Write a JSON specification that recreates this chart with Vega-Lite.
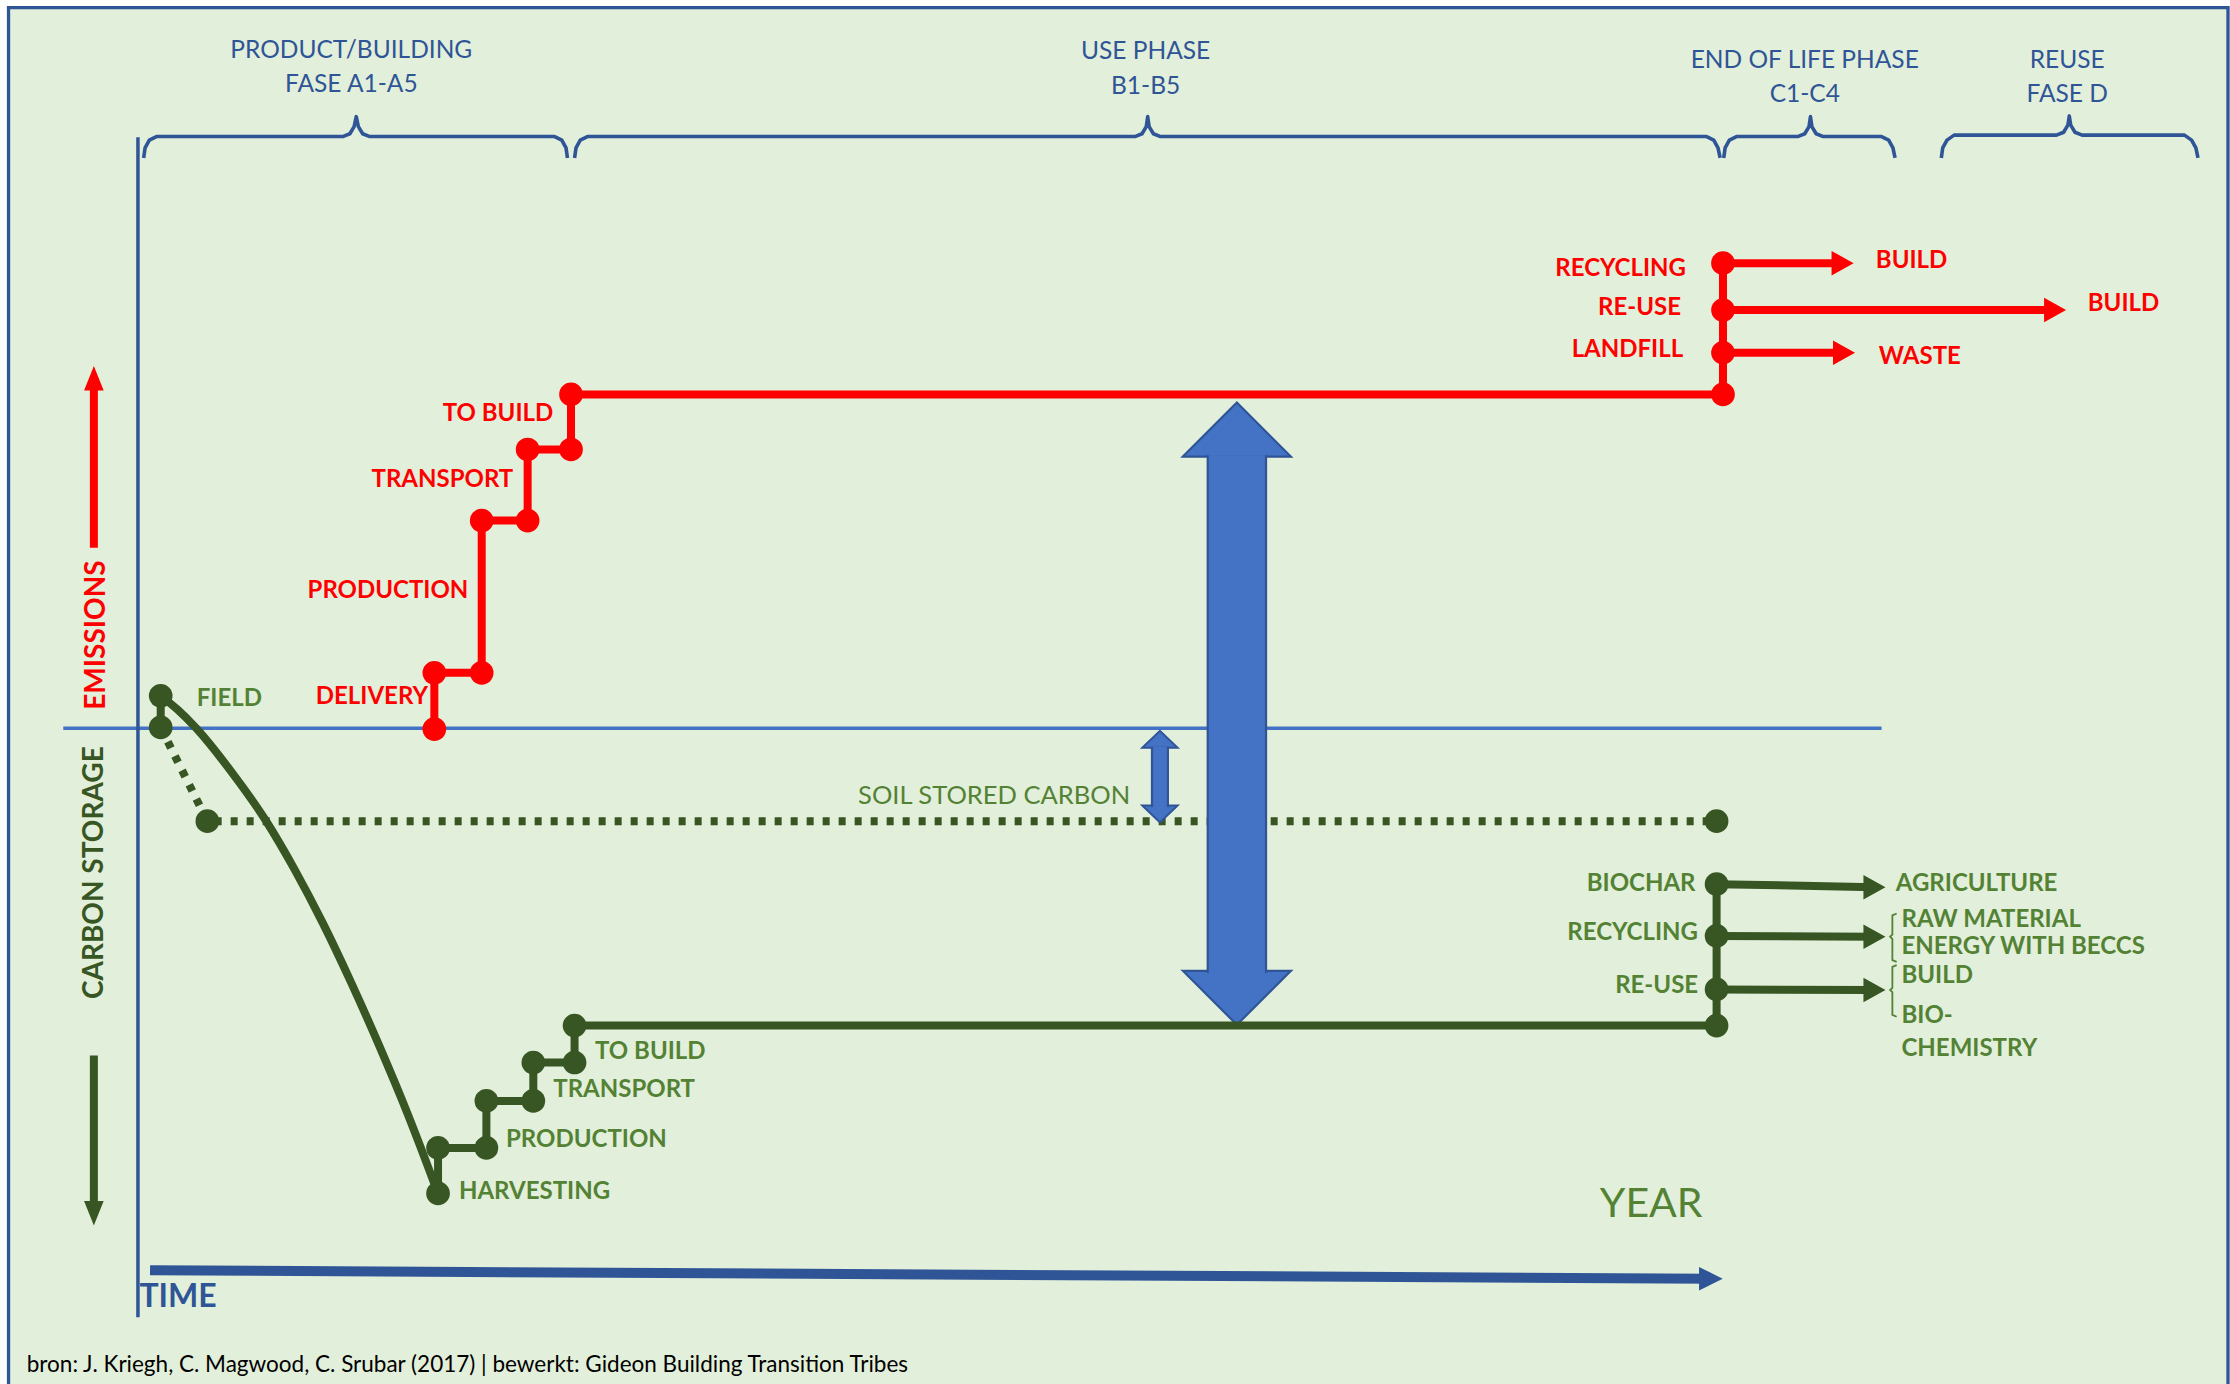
{
  "$schema": "https://vega.github.io/schema/vega-lite/v6.json",
  "width": 2230,
  "height": 1384,
  "autosize": {"type": "none"},
  "padding": 0,
  "background": "#FFFFFF",
  "config": {"view": {"stroke": null}, "text": {"font": "Lato"}},
  "datasets": {
    "braces": [
      {"phase": "A", "o": 1, "t": 4, "c": 401}, {"phase": "A", "o": 2, "t": 5, "c": 408}, {"phase": "A", "o": 3, "t": 8, "c": 413.5}, {"phase": "A", "o": 4, "t": 13, "c": 416}, {"phase": "A", "o": 5, "t": 144, "c": 416}, {"phase": "A", "o": 6, "t": 149, "c": 418}, {"phase": "A", "o": 7, "t": 152, "c": 423}, {"phase": "A", "o": 8, "t": 153.5, "c": 430}, {"phase": "A", "o": 9, "t": 155, "c": 423}, {"phase": "A", "o": 10, "t": 158, "c": 418}, {"phase": "A", "o": 11, "t": 163, "c": 416}, {"phase": "A", "o": 12, "t": 293, "c": 416}, {"phase": "A", "o": 13, "t": 298, "c": 413.5}, {"phase": "A", "o": 14, "t": 301, "c": 408}, {"phase": "A", "o": 15, "t": 302, "c": 401},
      {"phase": "B", "o": 1, "t": 307, "c": 401}, {"phase": "B", "o": 2, "t": 308, "c": 408}, {"phase": "B", "o": 3, "t": 311, "c": 413.5}, {"phase": "B", "o": 4, "t": 316, "c": 416}, {"phase": "B", "o": 5, "t": 701, "c": 416}, {"phase": "B", "o": 6, "t": 706, "c": 418}, {"phase": "B", "o": 7, "t": 709, "c": 423}, {"phase": "B", "o": 8, "t": 710, "c": 430}, {"phase": "B", "o": 9, "t": 711, "c": 423}, {"phase": "B", "o": 10, "t": 714, "c": 418}, {"phase": "B", "o": 11, "t": 719, "c": 416}, {"phase": "B", "o": 12, "t": 1103, "c": 416}, {"phase": "B", "o": 13, "t": 1108, "c": 413.5}, {"phase": "B", "o": 14, "t": 1111, "c": 408}, {"phase": "B", "o": 15, "t": 1112.5, "c": 401},
      {"phase": "C", "o": 1, "t": 1115, "c": 401}, {"phase": "C", "o": 2, "t": 1116, "c": 408}, {"phase": "C", "o": 3, "t": 1119, "c": 413.5}, {"phase": "C", "o": 4, "t": 1124, "c": 416}, {"phase": "C", "o": 5, "t": 1167, "c": 416}, {"phase": "C", "o": 6, "t": 1172, "c": 418}, {"phase": "C", "o": 7, "t": 1175, "c": 423}, {"phase": "C", "o": 8, "t": 1176, "c": 430}, {"phase": "C", "o": 9, "t": 1177, "c": 423}, {"phase": "C", "o": 10, "t": 1180, "c": 418}, {"phase": "C", "o": 11, "t": 1185, "c": 416}, {"phase": "C", "o": 12, "t": 1226, "c": 416}, {"phase": "C", "o": 13, "t": 1231, "c": 413.5}, {"phase": "C", "o": 14, "t": 1234, "c": 408}, {"phase": "C", "o": 15, "t": 1235.5, "c": 401},
      {"phase": "D", "o": 1, "t": 1268, "c": 401}, {"phase": "D", "o": 2, "t": 1269, "c": 408}, {"phase": "D", "o": 3, "t": 1272, "c": 413.5}, {"phase": "D", "o": 4, "t": 1277, "c": 417}, {"phase": "D", "o": 5, "t": 1349, "c": 417}, {"phase": "D", "o": 6, "t": 1354, "c": 419}, {"phase": "D", "o": 7, "t": 1357, "c": 424}, {"phase": "D", "o": 8, "t": 1358, "c": 430.5}, {"phase": "D", "o": 9, "t": 1359, "c": 424}, {"phase": "D", "o": 10, "t": 1362, "c": 419}, {"phase": "D", "o": 11, "t": 1367, "c": 417}, {"phase": "D", "o": 12, "t": 1439, "c": 417}, {"phase": "D", "o": 13, "t": 1444, "c": 413.5}, {"phase": "D", "o": 14, "t": 1447, "c": 408}, {"phase": "D", "o": 15, "t": 1448.5, "c": 401}
    ],
    "paths": [
      {"path": "emissions", "kind": "emission", "o": 1, "t": 208.4, "c": -0.6}, {"path": "emissions", "kind": "emission", "o": 2, "t": 208.4, "c": 39}, {"path": "emissions", "kind": "emission", "o": 3, "t": 241.7, "c": 39}, {"path": "emissions", "kind": "emission", "o": 4, "t": 241.7, "c": 146}, {"path": "emissions", "kind": "emission", "o": 5, "t": 274, "c": 146}, {"path": "emissions", "kind": "emission", "o": 6, "t": 274, "c": 196}, {"path": "emissions", "kind": "emission", "o": 7, "t": 304.5, "c": 196}, {"path": "emissions", "kind": "emission", "o": 8, "t": 304.5, "c": 234.7}, {"path": "emissions", "kind": "emission", "o": 9, "t": 1114.5, "c": 234.7}, {"path": "emissions", "kind": "emission", "o": 10, "t": 1114.5, "c": 327},
      {"path": "storage", "kind": "storage", "o": 1, "t": 211, "c": -327}, {"path": "storage", "kind": "storage", "o": 2, "t": 211, "c": -295}, {"path": "storage", "kind": "storage", "o": 3, "t": 245, "c": -295}, {"path": "storage", "kind": "storage", "o": 4, "t": 245, "c": -262}, {"path": "storage", "kind": "storage", "o": 5, "t": 278, "c": -262}, {"path": "storage", "kind": "storage", "o": 6, "t": 278, "c": -235}, {"path": "storage", "kind": "storage", "o": 7, "t": 307, "c": -235}, {"path": "storage", "kind": "storage", "o": 8, "t": 307, "c": -209}, {"path": "storage", "kind": "storage", "o": 9, "t": 1110, "c": -209}, {"path": "storage", "kind": "storage", "o": 10, "t": 1110, "c": -109.6},
      {"path": "field", "kind": "storage", "o": 1, "t": 16, "c": 22.8}, {"path": "field", "kind": "storage", "o": 2, "t": 16, "c": 0.6}
    ],
    "curve": [
      {"o": 1, "t": 16, "c": 22.8}, {"o": 2, "t": 28, "c": 13}, {"o": 3, "t": 41, "c": 0}, {"o": 4, "t": 66, "c": -31}, {"o": 5, "t": 90, "c": -65}, {"o": 6, "t": 110, "c": -99}, {"o": 7, "t": 130, "c": -137}, {"o": 8, "t": 150, "c": -179}, {"o": 9, "t": 170, "c": -224}, {"o": 10, "t": 190, "c": -272}, {"o": 11, "t": 211, "c": -327}
    ],
    "soil": [
      {"o": 1, "t": 16, "c": 0.6}, {"o": 2, "t": 48.8, "c": -65.3}, {"o": 3, "t": 1110, "c": -65.3}
    ],
    "nodes": [
      {"kind": "emission", "t": 208.4, "c": -0.6}, {"kind": "emission", "t": 208.4, "c": 39}, {"kind": "emission", "t": 241.7, "c": 39}, {"kind": "emission", "t": 241.7, "c": 146}, {"kind": "emission", "t": 274, "c": 146}, {"kind": "emission", "t": 274, "c": 196}, {"kind": "emission", "t": 304.5, "c": 196}, {"kind": "emission", "t": 304.5, "c": 234.7}, {"kind": "emission", "t": 1114.5, "c": 234.7}, {"kind": "emission", "t": 1114.5, "c": 264}, {"kind": "emission", "t": 1114.5, "c": 294}, {"kind": "emission", "t": 1114.5, "c": 327},
      {"kind": "storage", "t": 16, "c": 22.8}, {"kind": "storage", "t": 16, "c": 0.6}, {"kind": "storage", "t": 48.8, "c": -65.3}, {"kind": "storage", "t": 1110, "c": -65.3}, {"kind": "storage", "t": 211, "c": -327}, {"kind": "storage", "t": 211, "c": -295}, {"kind": "storage", "t": 245, "c": -295}, {"kind": "storage", "t": 245, "c": -262}, {"kind": "storage", "t": 278, "c": -262}, {"kind": "storage", "t": 278, "c": -235}, {"kind": "storage", "t": 307, "c": -235}, {"kind": "storage", "t": 307, "c": -209}, {"kind": "storage", "t": 1110, "c": -209}, {"kind": "storage", "t": 1110, "c": -183.6}, {"kind": "storage", "t": 1110, "c": -146}, {"kind": "storage", "t": 1110, "c": -109.6}
    ],
    "arrows": [
      {"kind": "emission", "dir": "right", "t": 1114.5, "c": 327, "t2": 1198.6, "c2": 327},
      {"kind": "emission", "dir": "right", "t": 1114.5, "c": 294, "t2": 1348, "c2": 294},
      {"kind": "emission", "dir": "right", "t": 1114.5, "c": 264, "t2": 1199.6, "c2": 264},
      {"kind": "storage", "dir": "right", "t": 1110, "c": -109.6, "t2": 1221, "c2": -111.7},
      {"kind": "storage", "dir": "right", "t": 1110, "c": -146, "t2": 1221, "c2": -146.5},
      {"kind": "storage", "dir": "right", "t": 1110, "c": -183.6, "t2": 1221, "c2": -184},
      {"kind": "emission", "dir": "up", "t": -31, "c": 127, "t2": -31, "c2": 246},
      {"kind": "storage", "dir": "down", "t": -31, "c": -230, "t2": -31, "c2": -341}
    ],
    "timeArrow": [
      {"kind": "time", "dir": "right", "t": 8.5, "c": -381, "t2": 1106, "c2": -387}
    ],
    "gapShafts": [
      {"arrow": "soil", "t": 713, "t2": 724.2, "c": -13, "c2": -55.4},
      {"arrow": "total", "t": 752.2, "t2": 793.2, "c": 192, "c2": -172}
    ],
    "gapHeads": [
      {"arrow": "soil", "dir": "up", "t": 718.6, "c": -7.75},
      {"arrow": "soil", "dir": "down", "t": 718.6, "c": -60.25},
      {"arrow": "total", "dir": "up", "t": 772.7, "c": 210},
      {"arrow": "total", "dir": "down", "t": 772.7, "c": -189.5}
    ],
    "brackets": [
      {"br": 1, "o": 1, "t": 1236.6, "c": -130.2}, {"br": 1, "o": 2, "t": 1233.6, "c": -131.5}, {"br": 1, "o": 3, "t": 1233.6, "c": -145}, {"br": 1, "o": 4, "t": 1232, "c": -146.5}, {"br": 1, "o": 5, "t": 1233.6, "c": -148}, {"br": 1, "o": 6, "t": 1233.6, "c": -163}, {"br": 1, "o": 7, "t": 1236.6, "c": -164.2},
      {"br": 2, "o": 1, "t": 1236.6, "c": -166.5}, {"br": 2, "o": 2, "t": 1233.6, "c": -167.8}, {"br": 2, "o": 3, "t": 1233.6, "c": -182.5}, {"br": 2, "o": 4, "t": 1232, "c": -184}, {"br": 2, "o": 5, "t": 1233.6, "c": -185.5}, {"br": 2, "o": 6, "t": 1233.6, "c": -201.5}, {"br": 2, "o": 7, "t": 1236.6, "c": -202.8}
    ],
    "labels": [
      {"kind": "emission", "side": "before", "text": "RECYCLING", "t": 1088.5, "c": 323},
      {"kind": "emission", "side": "before", "text": "RE-USE", "t": 1085, "c": 295.4},
      {"kind": "emission", "side": "before", "text": "LANDFILL", "t": 1086.5, "c": 266},
      {"kind": "emission", "side": "before", "text": "TO BUILD", "t": 292, "c": 220.9},
      {"kind": "emission", "side": "before", "text": "TRANSPORT", "t": 263.9, "c": 174.5},
      {"kind": "emission", "side": "before", "text": "PRODUCTION", "t": 232.3, "c": 96.6},
      {"kind": "emission", "side": "before", "text": "DELIVERY", "t": 204, "c": 22.1},
      {"kind": "emission", "side": "after", "text": "BUILD", "t": 1222, "c": 328.8},
      {"kind": "emission", "side": "after", "text": "BUILD", "t": 1371, "c": 298.4},
      {"kind": "emission", "side": "after", "text": "WASTE", "t": 1224, "c": 261},
      {"kind": "storage", "side": "before", "text": "BIOCHAR", "t": 1095.2, "c": -109.7},
      {"kind": "storage", "side": "before", "text": "RECYCLING", "t": 1096.9, "c": -143.7},
      {"kind": "storage", "side": "before", "text": "RE-USE", "t": 1097, "c": -181.2},
      {"kind": "storage", "side": "after", "text": "FIELD", "t": 41.3, "c": 20.4},
      {"kind": "storage", "side": "after", "text": "TO BUILD", "t": 321.4, "c": -227.5},
      {"kind": "storage", "side": "after", "text": "TRANSPORT", "t": 292, "c": -254.3},
      {"kind": "storage", "side": "after", "text": "PRODUCTION", "t": 258.8, "c": -289.4},
      {"kind": "storage", "side": "after", "text": "HARVESTING", "t": 225.7, "c": -326},
      {"kind": "storage", "side": "after", "text": "AGRICULTURE", "t": 1236, "c": -109.5},
      {"kind": "storage", "side": "after", "text": "RAW MATERIAL", "t": 1240, "c": -135},
      {"kind": "storage", "side": "after", "text": "ENERGY WITH BECCS", "t": 1240, "c": -153.5},
      {"kind": "storage", "side": "after", "text": "BUILD", "t": 1240, "c": -174.4},
      {"kind": "storage", "side": "after", "text": "BIO-", "t": 1240, "c": -202.6},
      {"kind": "storage", "side": "after", "text": "CHEMISTRY", "t": 1240, "c": -225.8}
    ],
    "phases": [
      {"text": "PRODUCT/BUILDING", "t": 150, "c": 476}, {"text": "FASE A1-A5", "t": 150, "c": 452},
      {"text": "USE PHASE", "t": 708.5, "c": 475.6}, {"text": "B1-B5", "t": 708.5, "c": 451},
      {"text": "END OF LIFE PHASE", "t": 1172, "c": 469}, {"text": "C1-C4", "t": 1172, "c": 445},
      {"text": "REUSE", "t": 1356.5, "c": 469}, {"text": "FASE D", "t": 1356.5, "c": 445}
    ]
  },
  "encoding": {
    "x": {"field": "t", "type": "quantitative", "scale": {"domain": [-97, 1471], "nice": false, "zero": false}, "axis": null},
    "y": {"field": "c", "type": "quantitative", "scale": {"domain": [-461, 512], "nice": false, "zero": false}, "axis": null}
  },
  "layer": [
    {
      "data": {"values": [{"t": -91, "t2": 1469.6, "c": 506.7, "c2": -475}]},
      "mark": {"type": "rect", "fill": "#E2EFDA", "stroke": "#2F5597", "strokeWidth": 3.3},
      "encoding": {"x2": {"field": "t2"}, "y2": {"field": "c2"}}
    },
    {
      "data": {"values": [{"line": "zero", "t": -52.5, "t2": 1226, "c": 0, "c2": 0}]},
      "mark": {"type": "rule", "color": "#4472C4", "strokeWidth": 3.3},
      "encoding": {"x2": {"field": "t2"}, "y2": {"field": "c2"}}
    },
    {
      "data": {"values": [{"line": "axis", "t": 0, "t2": 0, "c": 415.5, "c2": -414}]},
      "mark": {"type": "rule", "color": "#2F5597", "strokeWidth": 3.5},
      "encoding": {"x2": {"field": "t2"}, "y2": {"field": "c2"}}
    },
    {
      "data": {"name": "braces"},
      "mark": {"type": "line", "color": "#2F5597", "strokeWidth": 3.6, "strokeJoin": "round"},
      "encoding": {"detail": {"field": "phase"}, "order": {"field": "o", "type": "quantitative"}}
    },
    {
      "data": {"name": "timeArrow"},
      "mark": {"type": "rule", "color": "#2F5597", "strokeWidth": 10},
      "encoding": {"x2": {"field": "t2"}, "y2": {"field": "c2"}}
    },
    {
      "data": {"name": "timeArrow"},
      "mark": {"type": "point", "filled": true, "opacity": 1, "color": "#2F5597", "size": 560, "shape": "M -1 -1 L 1 0 L -1 1 Z"},
      "encoding": {
        "x": {"field": "t2", "type": "quantitative", "scale": {"domain": [-97, 1471], "nice": false, "zero": false}, "axis": null},
        "y": {"field": "c2", "type": "quantitative", "scale": {"domain": [-461, 512], "nice": false, "zero": false}, "axis": null}
      }
    },
    {
      "data": {"name": "soil"},
      "mark": {"type": "line", "color": "#375623", "strokeWidth": 8, "strokeDash": [7, 9], "strokeCap": "butt"},
      "encoding": {"order": {"field": "o", "type": "quantitative"}}
    },
    {
      "data": {"name": "curve"},
      "mark": {"type": "line", "color": "#375623", "strokeWidth": 8, "interpolate": "monotone"},
      "encoding": {"order": {"field": "o", "type": "quantitative"}}
    },
    {
      "data": {"name": "gapHeads"},
      "transform": [{"filter": "datum.arrow === 'total' && datum.dir === 'up'"}],
      "mark": {"type": "point", "filled": true, "opacity": 1, "fill": "#4472C4", "stroke": "#2F5597", "strokeWidth": 2.2, "size": 11664, "shape": "M -1 0.5 L 0 -0.5 L 1 0.5 Z"}
    },
    {
      "data": {"name": "gapHeads"},
      "transform": [{"filter": "datum.arrow === 'total' && datum.dir === 'down'"}],
      "mark": {"type": "point", "filled": true, "opacity": 1, "fill": "#4472C4", "stroke": "#2F5597", "strokeWidth": 2.2, "size": 11664, "shape": "M -1 -0.5 L 0 0.5 L 1 -0.5 Z"}
    },
    {
      "data": {"name": "gapHeads"},
      "transform": [{"filter": "datum.arrow === 'soil' && datum.dir === 'up'"}],
      "mark": {"type": "point", "filled": true, "opacity": 1, "fill": "#4472C4", "stroke": "#2F5597", "strokeWidth": 2, "size": 1246, "shape": "M -1 0.48 L 0 -0.48 L 1 0.48 Z"}
    },
    {
      "data": {"name": "gapHeads"},
      "transform": [{"filter": "datum.arrow === 'soil' && datum.dir === 'down'"}],
      "mark": {"type": "point", "filled": true, "opacity": 1, "fill": "#4472C4", "stroke": "#2F5597", "strokeWidth": 2, "size": 1246, "shape": "M -1 -0.48 L 0 0.48 L 1 -0.48 Z"}
    },
    {
      "data": {"name": "gapShafts"},
      "mark": {"type": "rect", "fill": "#4472C4", "strokeWidth": 0},
      "encoding": {"x2": {"field": "t2"}, "y2": {"field": "c2"}}
    },
    {
      "data": {"name": "gapShafts"},
      "mark": {"type": "rule", "color": "#2F5597", "strokeWidth": 2.2},
      "encoding": {"y2": {"field": "c2"}}
    },
    {
      "data": {"name": "gapShafts"},
      "mark": {"type": "rule", "color": "#2F5597", "strokeWidth": 2.2},
      "encoding": {
        "x": {"field": "t2", "type": "quantitative", "scale": {"domain": [-97, 1471], "nice": false, "zero": false}, "axis": null},
        "y2": {"field": "c2"}
      }
    },
    {
      "data": {"name": "paths"},
      "mark": {"type": "line", "strokeWidth": 8, "strokeJoin": "miter"},
      "encoding": {
        "detail": {"field": "path"},
        "order": {"field": "o", "type": "quantitative"},
        "color": {"field": "kind", "type": "nominal", "scale": {"domain": ["emission", "storage", "time"], "range": ["#FF0000", "#375623", "#2F5597"]}, "legend": null}
      }
    },
    {
      "data": {"name": "arrows"},
      "mark": {"type": "rule", "strokeWidth": 8},
      "encoding": {
        "x2": {"field": "t2"}, "y2": {"field": "c2"},
        "color": {"field": "kind", "type": "nominal", "scale": {"domain": ["emission", "storage", "time"], "range": ["#FF0000", "#375623", "#2F5597"]}, "legend": null}
      }
    },
    {
      "data": {"name": "arrows"},
      "mark": {"type": "point", "filled": true, "opacity": 1, "size": 600},
      "encoding": {
        "x": {"field": "t2", "type": "quantitative", "scale": {"domain": [-97, 1471], "nice": false, "zero": false}, "axis": null},
        "y": {"field": "c2", "type": "quantitative", "scale": {"domain": [-461, 512], "nice": false, "zero": false}, "axis": null},
        "shape": {"field": "dir", "type": "nominal", "scale": {"domain": ["right", "up", "down"], "range": ["M -0.9 -1 L 0.9 0 L -0.9 1 Z", "M -0.8 1 L 0 -1 L 0.8 1 Z", "M -0.8 -1 L 0 1 L 0.8 -1 Z"]}, "legend": null},
        "color": {"field": "kind", "type": "nominal", "scale": {"domain": ["emission", "storage", "time"], "range": ["#FF0000", "#375623", "#2F5597"]}, "legend": null}
      }
    },
    {
      "data": {"name": "nodes"},
      "mark": {"type": "point", "shape": "circle", "filled": true, "opacity": 1, "size": 560},
      "encoding": {
        "color": {"field": "kind", "type": "nominal", "scale": {"domain": ["emission", "storage", "time"], "range": ["#FF0000", "#375623", "#2F5597"]}, "legend": null}
      }
    },
    {
      "data": {"name": "brackets"},
      "mark": {"type": "line", "color": "#548235", "strokeWidth": 1.8},
      "encoding": {"detail": {"field": "br"}, "order": {"field": "o", "type": "quantitative"}}
    },
    {
      "data": {"name": "phases"},
      "mark": {"type": "text", "font": "Lato", "fontSize": 24.5, "color": "#2F5597", "align": "center", "baseline": "middle"},
      "encoding": {"text": {"field": "text"}}
    },
    {
      "data": {"name": "labels"},
      "transform": [{"filter": "datum.kind === 'emission' && datum.side === 'before'"}],
      "mark": {"type": "text", "font": "Lato", "fontWeight": "bold", "fontSize": 24, "color": "#FF0000", "align": "right", "baseline": "middle"},
      "encoding": {"text": {"field": "text"}}
    },
    {
      "data": {"name": "labels"},
      "transform": [{"filter": "datum.kind === 'emission' && datum.side === 'after'"}],
      "mark": {"type": "text", "font": "Lato", "fontWeight": "bold", "fontSize": 24, "color": "#FF0000", "align": "left", "baseline": "middle"},
      "encoding": {"text": {"field": "text"}}
    },
    {
      "data": {"name": "labels"},
      "transform": [{"filter": "datum.kind === 'storage' && datum.side === 'before'"}],
      "mark": {"type": "text", "font": "Lato", "fontWeight": "bold", "fontSize": 24, "color": "#548235", "align": "right", "baseline": "middle"},
      "encoding": {"text": {"field": "text"}}
    },
    {
      "data": {"name": "labels"},
      "transform": [{"filter": "datum.kind === 'storage' && datum.side === 'after'"}],
      "mark": {"type": "text", "font": "Lato", "fontWeight": "bold", "fontSize": 24, "color": "#548235", "align": "left", "baseline": "middle"},
      "encoding": {"text": {"field": "text"}}
    },
    {
      "data": {"values": [{"text": "EMISSIONS", "kind": "emission", "t": -29, "c": 65.5}, {"text": "CARBON STORAGE", "kind": "storage", "t": -30.5, "c": -101.5}]},
      "mark": {"type": "text", "font": "Lato", "fontWeight": "bold", "fontSize": 28, "angle": 270, "align": "center", "baseline": "middle"},
      "encoding": {
        "text": {"field": "text"},
        "color": {"field": "kind", "type": "nominal", "scale": {"domain": ["emission", "storage", "time"], "range": ["#FF0000", "#548235", "#2F5597"]}, "legend": null}
      }
    },
    {
      "data": {"values": [{"text": "TIME", "t": 1, "c": -399.6}]},
      "mark": {"type": "text", "font": "Lato", "fontWeight": "bold", "fontSize": 32, "color": "#2F5597", "align": "left", "baseline": "middle"},
      "encoding": {"text": {"field": "text"}}
    },
    {
      "data": {"values": [{"text": "YEAR", "t": 1064, "c": -335.3}]},
      "mark": {"type": "text", "font": "Lato", "fontSize": 41, "color": "#548235", "align": "center", "baseline": "middle"},
      "encoding": {"text": {"field": "text"}}
    },
    {
      "data": {"values": [{"text": "SOIL STORED CARBON", "t": 602, "c": -47.7}]},
      "mark": {"type": "text", "font": "Lato", "fontSize": 25.5, "color": "#548235", "align": "center", "baseline": "middle"},
      "encoding": {"text": {"field": "text"}}
    },
    {
      "data": {"values": [{"text": "bron:  J. Kriegh, C. Magwood, C. Srubar (2017) | bewerkt: Gideon Building Transition Tribes", "t": -78.2, "c": -447.8}]},
      "mark": {"type": "text", "font": "Lato", "fontSize": 22.5, "color": "#000000", "align": "left", "baseline": "middle"},
      "encoding": {"text": {"field": "text"}}
    }
  ]
}
